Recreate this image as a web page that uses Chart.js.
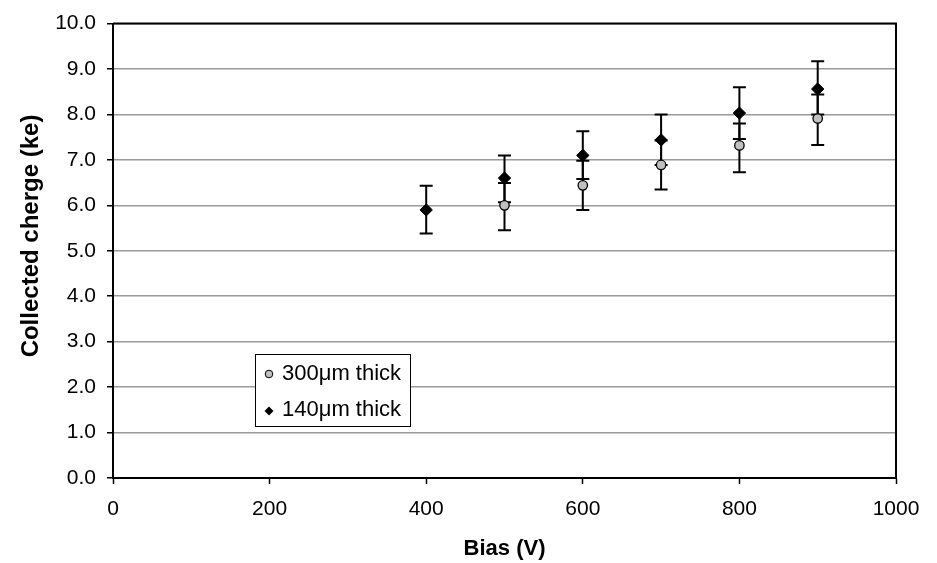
<!DOCTYPE html>
<html><head><meta charset="utf-8">
<script src="https://cdn.jsdelivr.net/npm/chart.js@4.4.0/dist/chart.umd.min.js"></script>
<style>html,body{margin:0;padding:0;background:#fff;}#wrap{width:937px;height:563px;}</style>
</head><body><div id="wrap"><canvas id="c" width="937" height="563"></canvas></div>
<script>
// ---- data ----
const bias300 = [500, 600, 700, 800, 900];
const charge300 = [6.00, 6.44, 6.89, 7.32, 7.91];
const err300Low = [5.45, 5.90, 6.35, 6.73, 7.33];
const err300High = [6.49, 6.98, 7.43, 7.80, 8.44];

const bias140 = [400, 500, 600, 700, 800, 900];
const charge140 = [5.90, 6.60, 7.10, 7.44, 8.03, 8.56];
const err140Low = [5.38, 6.07, 6.58, 6.89, 7.46, 8.00];
const err140High = [6.43, 7.10, 7.63, 8.00, 8.60, 9.17];

const seriesLabels = ['300\u03bcm thick', '140\u03bcm thick'];
const xTicks = [0, 200, 400, 600, 800, 1000];
const yTicks = [0, 1, 2, 3, 4, 5, 6, 7, 8, 9, 10];
const xTitle = 'Bias (V)';
const yTitle = 'Collected cherge (ke)';

const FONT = '"Liberation Sans", Arial, sans-serif';

function pts(xs, ys, lo, hi) {
  return xs.map((x, i) => ({x: x, y: ys[i], lo: lo[i], hi: hi[i]}));
}

const errorBars = {
  id: 'errorBars',
  beforeDatasetsDraw(chart) {
    const ctx = chart.ctx, xs = chart.scales.x, ys = chart.scales.y;
    const a = chart.chartArea;
    ctx.save();
    ctx.strokeStyle = '#000'; ctx.lineWidth = 2;
    ctx.beginPath();
    ctx.moveTo(a.left, a.top); ctx.lineTo(a.right, a.top); ctx.lineTo(a.right, a.bottom);
    ctx.stroke();
    chart.data.datasets.forEach(ds => {
      ds.data.forEach(p => {
        const px = xs.getPixelForValue(p.x);
        const yl = ys.getPixelForValue(p.lo), yh = ys.getPixelForValue(p.hi);
        ctx.beginPath();
        ctx.moveTo(px, yl); ctx.lineTo(px, yh);
        ctx.moveTo(px - 6.5, yl); ctx.lineTo(px + 6.5, yl);
        ctx.moveTo(px - 6.5, yh); ctx.lineTo(px + 6.5, yh);
        ctx.stroke();
      });
    });
    ctx.restore();
  }
};

const boxLegend = {
  id: 'boxLegend',
  afterDatasetsDraw(chart) {
    const ctx = chart.ctx;
    ctx.save();
    ctx.fillStyle = '#fff'; ctx.strokeStyle = '#000'; ctx.lineWidth = 1;
    ctx.fillRect(255.5, 354.5, 155, 72);
    ctx.strokeRect(255.5, 354.5, 155, 72);
    ctx.beginPath(); ctx.arc(269, 374, 3.8, 0, Math.PI * 2);
    ctx.fillStyle = '#c0c0c0'; ctx.fill(); ctx.strokeStyle = '#000'; ctx.lineWidth = 1; ctx.stroke();
    ctx.beginPath();
    ctx.moveTo(269 - 4.5, 411); ctx.lineTo(269, 411 - 4.5); ctx.lineTo(269 + 4.5, 411); ctx.lineTo(269, 411 + 4.5);
    ctx.closePath(); ctx.fillStyle = '#000'; ctx.fill();
    ctx.font = '22px ' + FONT; ctx.textBaseline = 'middle'; ctx.textAlign = 'left';
    ctx.fillText(chart.data.datasets[0].label, 282, 374);
    ctx.fillText(chart.data.datasets[1].label, 282, 410);
    // y-axis title (placed as in the reference, slightly above centre)
    ctx.save();
    ctx.translate(31, 236);
    ctx.rotate(-Math.PI / 2);
    ctx.font = 'bold 24px ' + FONT; ctx.textAlign = 'center';
    ctx.fillText(yTitle, 0, 0);
    ctx.restore();
    ctx.restore();
  }
};

new Chart(document.getElementById('c'), {
  type: 'scatter',
  data: {
    datasets: [
      {
        label: seriesLabels[0],
        data: pts(bias300, charge300, err300Low, err300High),
        pointStyle: 'circle', pointRadius: 4.7, pointHoverRadius: 4.7,
        backgroundColor: '#c0c0c0', borderColor: '#000', borderWidth: 1.3
      },
      {
        label: seriesLabels[1],
        data: pts(bias140, charge140, err140Low, err140High),
        pointStyle: 'rectRot', pointRadius: 6.2, pointHoverRadius: 6.2,
        backgroundColor: '#000', borderColor: '#000', borderWidth: 1
      }
    ]
  },
  options: {
    responsive: false, animation: false, devicePixelRatio: 1,
    layout: {padding: {left: 0, right: 41, top: 20, bottom: 0}},
    plugins: {legend: {display: false}, tooltip: {enabled: false}},
    scales: {
      x: {
        type: 'linear', min: 0, max: 1000,
        afterBuildTicks(s) { s.ticks = xTicks.map(v => ({value: v})); },
        afterFit(s) { s.height = 85; },
        ticks: {color: '#000', font: {family: FONT, size: 21}, padding: 13, maxRotation: 0, callback: v => String(v)},
        grid: {drawOnChartArea: false, tickLength: 6, tickColor: '#000', color: '#000', tickWidth: 1.5},
        border: {color: '#000', width: 2},
        title: {display: true, text: xTitle, color: '#000', font: {family: FONT, size: 22, weight: 'bold'}, padding: {top: 0, bottom: 1}}
      },
      y: {
        type: 'linear', min: 0, max: 10,
        afterBuildTicks(s) { s.ticks = yTicks.map(v => ({value: v})); },
        afterFit(s) { s.width = 113; },
        ticks: {color: '#000', font: {family: FONT, size: 21}, padding: 11, callback: v => Number(v).toFixed(1)},
        grid: {color: '#9a9a9a', lineWidth: 1.5, tickLength: 6, tickColor: '#000', tickWidth: 1.5},
        border: {color: '#000', width: 2},
        title: {display: false, text: yTitle}
      }
    }
  },
  plugins: [errorBars, boxLegend]
});
</script></body></html>
